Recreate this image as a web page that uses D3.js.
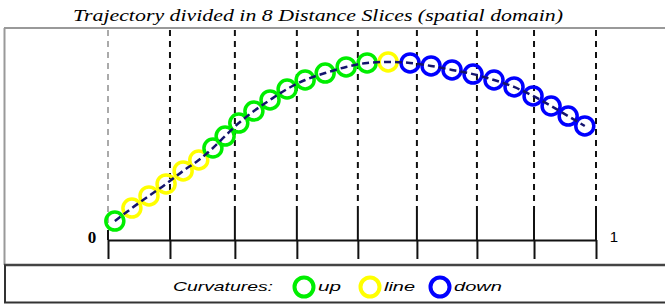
<!DOCTYPE html>
<html>
<head>
<meta charset="utf-8">
<script src="https://cdn.jsdelivr.net/npm/d3@7"></script>
<style>
  body { margin: 0; background: #fff; }
  svg { display: block; }
</style>
</head>
<body>
<svg id="chart" width="665" height="306"></svg>
<script>
// slice boundaries along the normalised distance axis (0..1)
const sliceBounds = [0, 0.127, 0.260, 0.387, 0.512, 0.633, 0.756, 0.873, 1];
const axisLabels = ["0", "1"];

// trajectory samples
const trajX = [0.014, 0.049, 0.084, 0.119, 0.154, 0.186, 0.215, 0.240, 0.268, 0.299,
               0.332, 0.367, 0.404, 0.445, 0.488, 0.531, 0.574, 0.619, 0.662, 0.705,
               0.748, 0.791, 0.832, 0.871, 0.908, 0.943, 0.977];
const trajY = [0.090, 0.152, 0.210, 0.267, 0.329, 0.381, 0.438, 0.495, 0.557, 0.614,
               0.667, 0.719, 0.762, 0.795, 0.824, 0.843, 0.848, 0.843, 0.829, 0.810,
               0.790, 0.762, 0.729, 0.686, 0.638, 0.590, 0.543];
const curvature = ["up", "line", "line", "line", "line", "line",
                   "up", "up", "up", "up", "up", "up", "up", "up", "up", "up",
                   "line",
                   "down", "down", "down", "down", "down", "down", "down", "down", "down", "down"];

const legendKeys = ["up", "line", "down"];
const title = "Trajectory divided in 8 Distance Slices (spatial domain)";

const colors = d3.scaleOrdinal()
    .domain(legendKeys)
    .range(["#00ee00", "#ffff00", "#0000ff"]);

const svg = d3.select("#chart");

const x = d3.scaleLinear().domain([0, 1]).range([108, 596]);
const y = d3.scaleLinear().domain([0, 1]).range([240, 30]);

// frame
svg.append("line").attr("x1", 4.5).attr("x2", 4.5).attr("y1", 28).attr("y2", 265)
    .attr("stroke", "#999").attr("stroke-width", 2);
svg.append("line").attr("x1", 4).attr("x2", 665).attr("y1", 28).attr("y2", 28)
    .attr("stroke", "#999").attr("stroke-width", 2);
svg.append("line").attr("x1", 4).attr("x2", 665).attr("y1", 265).attr("y2", 265)
    .attr("stroke", "#444").attr("stroke-width", 2.5);
// legend box
svg.append("line").attr("x1", 5).attr("x2", 5).attr("y1", 265).attr("y2", 303)
    .attr("stroke", "#333").attr("stroke-width", 2);
svg.append("line").attr("x1", 4).attr("x2", 665).attr("y1", 302.5).attr("y2", 302.5)
    .attr("stroke", "#333").attr("stroke-width", 2);

// title
svg.append("text")
    .attr("x", 318).attr("y", 21)
    .attr("text-anchor", "middle")
    .attr("font-family", "Liberation Serif, serif")
    .attr("font-style", "italic")
    .attr("font-size", 17)
    .attr("textLength", 490)
    .attr("lengthAdjust", "spacingAndGlyphs")
    .text(title);

// dashed slice lines
svg.append("g").selectAll("line")
    .data(sliceBounds)
    .join("line")
    .attr("x1", d => x(d)).attr("x2", d => x(d))
    .attr("y1", 30)
    .attr("y2", (d, i) => i === 0 ? 228 : 212)
    .attr("stroke", (d, i) => i === 0 ? "#aaa" : "#111")
    .attr("stroke-width", 2)
    .attr("stroke-dasharray", "6,5");

// solid upper part of ticks
svg.append("g").selectAll("line")
    .data(sliceBounds)
    .join("line")
    .attr("x1", d => x(d)).attr("x2", d => x(d))
    .attr("y1", (d, i) => i === 0 ? 230 : (i === sliceBounds.length - 1 ? 208 : 212))
    .attr("y2", 240)
    .attr("stroke", "#111")
    .attr("stroke-width", 2);

// axis
const axis = d3.axisBottom(x)
    .tickValues(sliceBounds)
    .tickSizeInner(19)
    .tickSizeOuter(0)
    .tickFormat("");
const gAxis = svg.append("g").attr("transform", "translate(0,240)").call(axis);
gAxis.select(".domain").attr("stroke", "#111").attr("stroke-width", 2);
gAxis.selectAll(".tick line").attr("stroke", "#111").attr("stroke-width", 2);

svg.append("text")
    .attr("x", 92).attr("y", 243)
    .attr("text-anchor", "middle")
    .attr("font-family", "Liberation Serif, serif")
    .attr("font-weight", "bold")
    .attr("font-size", 17)
    .text(axisLabels[0]);
svg.append("text")
    .attr("x", 614).attr("y", 242)
    .attr("text-anchor", "middle")
    .attr("font-family", "Liberation Sans, sans-serif")
    .attr("font-size", 15)
    .text(axisLabels[1]);

// trajectory points
const pts = trajX.map((v, i) => ({ x: v, y: trajY[i], c: curvature[i] }));

svg.append("g").selectAll("circle")
    .data(pts)
    .join("circle")
    .attr("cx", d => x(d.x))
    .attr("cy", d => y(d.y))
    .attr("r", 9)
    .attr("fill", "none")
    .attr("stroke", d => colors(d.c))
    .attr("stroke-width", 3.5);

const line = d3.line().x(d => x(d.x)).y(d => y(d.y)).curve(d3.curveMonotoneX);
svg.append("path")
    .datum(pts)
    .attr("d", line)
    .attr("fill", "none")
    .attr("stroke", "#14146e")
    .attr("stroke-width", 2.5)
    .attr("stroke-dasharray", "7,4");

// legend
svg.append("text")
    .attr("x", 173).attr("y", 291)
    .attr("font-family", "Liberation Sans, sans-serif")
    .attr("font-style", "italic")
    .attr("font-size", 13)
    .attr("textLength", 100)
    .attr("lengthAdjust", "spacingAndGlyphs")
    .text("Curvatures:");

const legendPos = [304, 370, 440];
const legendW = [23, 31, 48];
const lg = svg.append("g").selectAll("g")
    .data(legendKeys)
    .join("g")
    .attr("transform", (d, i) => `translate(${legendPos[i]},287)`);
lg.append("circle")
    .attr("r", 9.5)
    .attr("fill", "none")
    .attr("stroke", d => colors(d))
    .attr("stroke-width", 4);
lg.append("text")
    .attr("x", 14).attr("y", 4)
    .attr("font-family", "Liberation Sans, sans-serif")
    .attr("font-style", "italic")
    .attr("font-size", 13)
    .attr("textLength", (d, i) => legendW[i])
    .attr("lengthAdjust", "spacingAndGlyphs")
    .text(d => d);
</script>
</body>
</html>
